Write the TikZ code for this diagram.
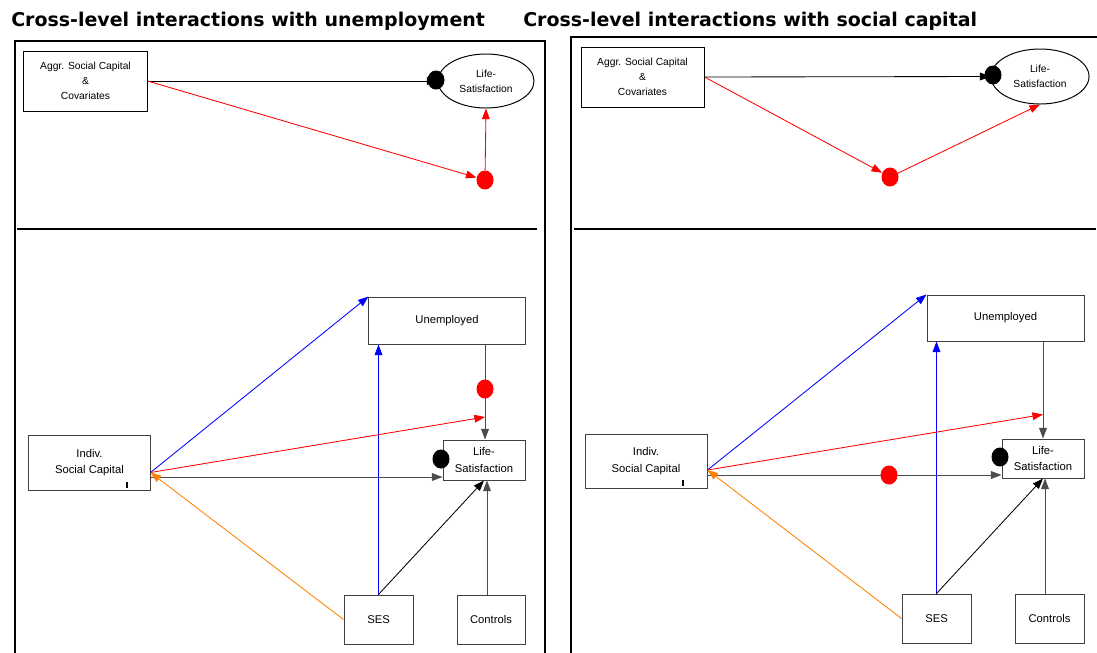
\documentclass[tikz,border=0pt]{standalone}
\usepackage{fontspec}
\newfontfamily\arialfont{Liberation Sans}
\newfontfamily\titlefont{DejaVu Sans}
\usetikzlibrary{arrows.meta,calc,positioning,shapes.geometric,backgrounds}

\begin{document}
\begin{tikzpicture}[x=0.025cm,y=-0.025cm,
	>={Triangle[length=7.5pt,width=5.5pt]},
	every node/.style={font=\arialfont\fontsize{8}{11.5}\selectfont},
	box/.style={draw=black!75,line width=0.7pt,inner sep=0pt,align=center},
	topbox/.style={box,draw=black,font=\arialfont\fontsize{7.3}{10.5}\selectfont},
	oval/.style={ellipse,draw,line width=0.7pt,inner sep=0pt,align=center,font=\arialfont\fontsize{7.3}{10.5}\selectfont},
	bdot/.style={ellipse,fill=black,inner sep=0pt,minimum width=0.425cm,minimum height=0.475cm},
	rdot/.style={bdot,fill=red},
	panelline/.style={line width=1.8pt},
	conn/.style={line width=0.6pt,black!70},
	headtext/.style={font=\titlefont\bfseries\fontsize{13.5}{15}\selectfont,anchor=base west,inner sep=0pt}]
	\useasboundingbox (0,0) rectangle (1097,652);
	\node[headtext] (titleL) at (11,26) {Cross-level interactions with unemployment};
	\node[headtext] (titleR) at (523,26) {Cross-level interactions with social capital};
	% panels
	\draw[panelline] (15,660) -- (15,41) -- (545,41) -- (545,660);
	\draw[panelline] (17,229) -- (537,229);
	\draw[panelline] (571,660) -- (571,37) -- (1105,37);
	\draw[panelline] (574,229) -- (1096,229);
	
	% left: unemployment
	\node[topbox,minimum width=3.075cm,minimum height=1.5cm] (aggrL) at (85.5,81) {Aggr. Social Capital\\\&\\Covariates};
	\node[oval,minimum width=2.4cm,minimum height=1.35cm] (lifeL) at (486,81) {Life-\\Satisfaction};
	\node[bdot] (dotL1) at (436,80) {};
	\node[rdot] (redL1) at (485,180) {};
	\node[box,minimum width=3.9cm,minimum height=1.175cm] (unempL) at (447,320.5) {Unemployed};
	\node[box,minimum width=3.025cm,minimum height=1.375cm] (indivL) at (89.5,462.5) {Indiv.\\Social Capital};
	\node[box,minimum width=2.05cm,minimum height=1cm] (lsL) at (484,460) {Life-\\Satisfaction};
	\node[box,minimum width=1.725cm,minimum height=1.225cm] (sesL) at (378.5,619.5) {SES};
	\node[box,minimum width=1.7cm,minimum height=1.225cm] (ctrlL) at (491,619.5) {Controls};
	\node[rdot] (redL2) at (485,389) {};
	\node[bdot] (dotL2) at (441,459) {};
	\draw[line width=1pt] (127,482) -- (127,488);
	\coordinate (iL) at ($(indivL.east)+(0,10)$);
	\coordinate (jL) at ($(indivL.east)+(0,14.5)$);
	\coordinate (mL) at ($(redL2)+(0,28)$);
	\coordinate (cL) at ($(lsL.south)+(3,0)$);
	\begin{scope}[on background layer]
		\draw[->,line width=0.6pt] (aggrL.east) -- (lifeL.west);
		\draw[->,red,line width=0.6pt] (aggrL.east) -- (redL1);
		\draw[->,red,line width=0.6pt] (redL1) -- (lifeL.south);
		\draw[->,blue,line width=0.6pt] (iL) -- (unempL.north west);
		\draw[->,blue,line width=0.6pt] (sesL.north) -- (sesL.north |- unempL.south);
		\draw[->,conn] (redL2 |- unempL.south) -- (redL2 |- lsL.north);
		\draw[->,red,line width=0.6pt] (iL) -- (mL);
		\draw[->,conn] (jL) -- (jL -| lsL.west);
		\draw[->,orange,line width=0.6pt] (sesL.west) -- (iL);
		\draw[->,line width=0.6pt] (sesL.north) -- (lsL.south);
		\draw[->,conn] (cL |- ctrlL.north) -- (cL);
	\end{scope}
	
	% right: social capital
	\node[topbox,minimum width=3.075cm,minimum height=1.5cm] (aggrR) at (642.5,77) {Aggr. Social Capital\\\&\\Covariates};
	\node[oval,minimum width=2.45cm,minimum height=1.375cm] (lifeR) at (1040,76.5) {Life-\\Satisfaction};
	\node[bdot] (dotR1) at (993,75) {};
	\node[rdot] (redR1) at (890,177) {};
	\node[box,minimum width=3.925cm,minimum height=1.15cm] (unempR) at (1005.5,318) {Unemployed};
	\node[box,minimum width=3.05cm,minimum height=1.35cm] (indivR) at (646,461) {Indiv.\\Social Capital};
	\node[box,minimum width=2.05cm,minimum height=0.975cm] (lsR) at (1043,458.5) {Life-\\Satisfaction};
	\node[box,minimum width=1.725cm,minimum height=1.225cm] (sesR) at (936.5,618.5) {SES};
	\node[box,minimum width=1.725cm,minimum height=1.225cm] (ctrlR) at (1049.5,618.5) {Controls};
	\node[rdot] (redR2) at (889,475) {};
	\node[bdot] (dotR2) at (1000,457) {};
	\draw[line width=1pt] (683,480) -- (683,486);
	\coordinate (iR) at ($(indivR.east)+(0,9)$);
	\coordinate (jR) at ($(indivR.east)+(0,14)$);
	\coordinate (mR) at ($(lsR.north)+(0,-24)$);
	\coordinate (cR) at ($(lsR.south)+(2,0)$);
	\begin{scope}[on background layer]
		\draw[->,line width=0.6pt] (aggrR.east) -- (lifeR.west);
		\draw[->,red,line width=0.6pt] (aggrR.east) -- (redR1);
		\draw[->,red,line width=0.6pt] (redR1) -- (lifeR.south);
		\draw[->,blue,line width=0.6pt] (iR) -- (unempR.north west);
		\draw[->,blue,line width=0.6pt] (sesR.north) -- (sesR.north |- unempR.south);
		\draw[->,conn] (lsR.north |- unempR.south) -- (lsR.north);
		\draw[->,red,line width=0.6pt] (iR) -- (mR);
		\draw[->,conn] (jR) -- (jR -| lsR.west);
		\draw[->,orange,line width=0.6pt] (sesR.west) -- (iR);
		\draw[->,line width=0.6pt] (sesR.north) -- (lsR.south);
		\draw[->,conn] (cR |- ctrlR.north) -- (cR);
	\end{scope}
\end{tikzpicture}
\end{document}
